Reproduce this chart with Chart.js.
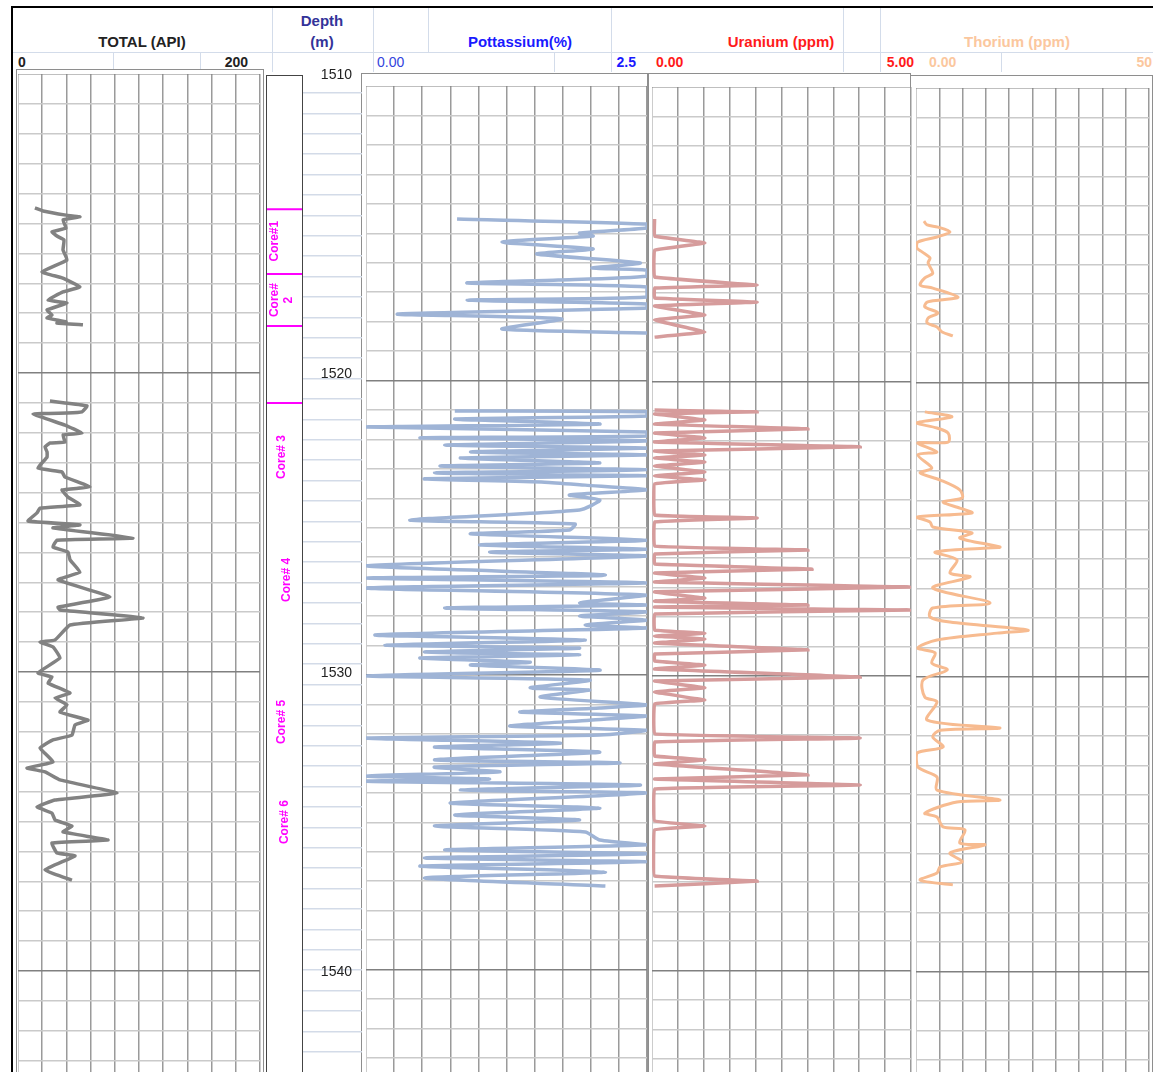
<!DOCTYPE html>
<html>
<head>
<meta charset="utf-8">
<script src="https://cdn.jsdelivr.net/npm/chart.js@4.4.1/dist/chart.umd.min.js"></script>
<style>
  body { margin: 0; background: #fff; font-family: "Liberation Sans", Arial, sans-serif; }
  #page { position: relative; width: 1153px; height: 1072px; overflow: hidden; }
  #page canvas { position: absolute; }
  .ln { position: absolute; }
  .box { position: absolute; border: 1px solid #8e8e8e; border-bottom: none; box-sizing: border-box; }
  .tx { position: absolute; white-space: nowrap; font-weight: bold; }
</style>
</head>
<body>
<div id="page">
  <!-- frame and header grid -->
  <div class="ln" style="left:11px;top:6px;width:1142px;height:2px;background:#000"></div>
  <div class="ln" style="left:11px;top:6px;width:2px;height:1066px;background:#000"></div>
  <div class="ln" style="left:13px;top:52px;width:1140px;height:1px;background:#d3dcea"></div>
  <div class="ln" style="left:272px;top:8px;width:1px;height:64px;background:#d3dcea"></div>
  <div class="ln" style="left:373px;top:8px;width:1px;height:64px;background:#d3dcea"></div>
  <div class="ln" style="left:428px;top:8px;width:1px;height:44px;background:#d3dcea"></div>
  <div class="ln" style="left:611px;top:8px;width:1px;height:64px;background:#d3dcea"></div>
  <div class="ln" style="left:843px;top:8px;width:1px;height:64px;background:#d3dcea"></div>
  <div class="ln" style="left:880px;top:8px;width:1px;height:64px;background:#d3dcea"></div>
  <div class="ln" style="left:113px;top:52px;width:1px;height:18px;background:#d3dcea"></div>
  <div class="ln" style="left:200px;top:52px;width:1px;height:18px;background:#d3dcea"></div>
  <div class="ln" style="left:554px;top:52px;width:1px;height:20px;background:#d3dcea"></div>
  <div class="ln" style="left:1001px;top:52px;width:1px;height:20px;background:#d3dcea"></div>

  <!-- header titles -->
  <div class="tx" style="left:42px;top:33px;width:200px;text-align:center;font-size:15px;color:#222">TOTAL (API)</div>
  <div class="tx" style="left:272px;top:12px;width:100px;text-align:center;font-size:15px;color:#333399">Depth</div>
  <div class="tx" style="left:272px;top:33px;width:100px;text-align:center;font-size:15px;color:#333399">(m)</div>
  <div class="tx" style="left:420px;top:33px;width:200px;text-align:center;font-size:15px;color:#1a1aff">Pottassium(%)</div>
  <div class="tx" style="left:681px;top:33px;width:200px;text-align:center;font-size:15px;color:#ff1a1a">Uranium (ppm)</div>
  <div class="tx" style="left:917px;top:33px;width:200px;text-align:center;font-size:15px;color:#fbc79e">Thorium (ppm)</div>

  <!-- scale row -->
  <div class="tx" style="left:18px;top:54px;font-size:14px;color:#222">0</div>
  <div class="tx" style="left:148px;top:54px;width:100px;text-align:right;font-size:14px;color:#222">200</div>
  <div class="tx" style="left:377px;top:54px;font-size:14px;color:#3344dd;font-weight:normal">0.00</div>
  <div class="tx" style="left:536px;top:54px;width:100px;text-align:right;font-size:14px;color:#1a1aff">2.5</div>
  <div class="tx" style="left:656px;top:54px;font-size:14px;color:#ff1a1a">0.00</div>
  <div class="tx" style="left:814px;top:54px;width:100px;text-align:right;font-size:14px;color:#ff1a1a">5.00</div>
  <div class="tx" style="left:929px;top:54px;font-size:14px;color:#fbc79e">0.00</div>
  <div class="tx" style="left:1052px;top:54px;width:100px;text-align:right;font-size:14px;color:#fbc79e">50</div>

  <!-- track boxes -->
  <div class="box" style="left:16px;top:69px;width:248px;height:1003px"></div>
  <div class="box" style="left:266px;top:75px;width:37px;height:997px;border-color:#444;border-width:1.5px"></div>
  <div class="box" style="left:361px;top:73px;width:288px;height:999px"></div>
  <div class="box" style="left:647px;top:73px;width:264px;height:999px"></div>
  <div class="box" style="left:910px;top:75px;width:243px;height:997px"></div>
</div>

<script>
// ---- data (depth in m, value in track units) ----
// null rows split a curve where the log has no readings
const grDepth = [1514.48,1514.58,1514.72,1514.78,1514.88,1515.15,1515.28,1515.42,1515.55,1515.89,1516.22,1516.62,1516.82,1517.12,1517.29,1517.56,1517.66,1517.89,1518.06,1518.16,1518.29,1518.33,1518.39,
  null,
  1520.94,1521.00,1521.10,1521.30,1521.34,1521.37,1521.74,1522.01,1522.07,1522.31,1522.34,1522.47,1522.64,1522.81,1523.18,1523.31,1523.48,1523.81,1523.91,1524.15,1524.41,1524.52,1524.68,1524.95,1525.08,1525.18,1525.52,1525.59,1525.82,1525.99,1526.25,1526.66,1526.92,1527.49,1527.83,1527.93,1528.19,1528.43,1528.93,1529.00,1529.16,1529.53,1530.03,1530.17,1530.37,1530.70,1530.87,1531.10,1531.34,1531.61,1531.77,1532.11,1532.27,1532.54,1533.01,1533.21,1533.34,1533.61,1534.05,1534.28,1534.51,1534.72,1534.95,1535.15,1535.35,1535.62,1535.72,1536.05,1536.15,1536.62,1536.96];
const grValue = [14.0,20.7,39.7,51.2,37.2,39.7,28.1,32.2,38.0,37.2,40.5,19.8,36.4,51.2,37.2,24.8,40.5,24.0,28.1,24.0,39.7,32.2,53.7,
  null,
  26.4,38.8,57.0,52.9,40.5,12.4,38.8,52.9,37.2,38.8,26.4,22.3,24.0,24.0,16.5,36.4,38.8,59.5,36.4,41.3,51.2,18.2,15.7,8.3,51.2,28.9,95.0,32.2,28.9,41.3,43.0,51.2,33.1,76.0,33.1,34.7,103.3,43.0,30.6,18.2,28.9,34.7,16.5,28.1,24.8,43.0,30.6,40.5,34.7,57.9,47.1,44.6,28.9,18.2,28.9,7.4,22.3,34.7,81.8,30.6,15.7,28.1,30.6,44.6,37.2,74.4,28.1,32.2,47.1,22.3,44.6];

const kDepth = [1514.85,1515.02,1515.15,1515.32,1515.42,1515.62,1515.85,1516.02,1516.32,1516.49,1516.56,1516.76,1516.89,1516.99,1517.12,1517.46,1517.56,1517.69,1517.83,1518.03,1518.19,1518.53,1518.66,
  null,
  1521.27,1521.30,1521.44,1521.54,1521.71,1521.81,1521.97,1522.11,1522.17,1522.27,1522.41,1522.51,1522.64,1522.74,1522.84,1523.01,1523.11,1523.24,1523.34,1523.44,1523.54,1523.65,1523.75,1523.91,1524.08,1524.25,1524.58,1524.92,1525.05,1525.25,1525.38,1525.59,1525.75,1525.89,1525.99,1526.12,1526.45,1526.76,1526.86,1527.02,1527.19,1527.43,1527.69,1527.76,1527.86,1527.99,1528.13,1528.26,1528.43,1528.53,1528.76,1528.93,1529.10,1529.20,1529.33,1529.43,1529.53,1529.67,1529.77,1529.94,1530.13,1530.27,1530.53,1530.60,1530.84,1531.10,1531.20,1531.34,1531.47,1531.61,1531.81,1531.95,1532.11,1532.21,1532.38,1532.51,1532.68,1532.94,1533.04,1533.18,1533.34,1533.48,1533.58,1533.65,1533.78,1533.95,1534.05,1534.38,1534.55,1534.78,1534.95,1535.15,1535.35,1535.62,1535.78,1535.95,1536.08,1536.22,1536.35,1536.49,1536.69,1536.89,1537.16];
const kValue = [0.81,2.50,2.50,1.90,2.02,1.21,2.02,1.52,2.44,2.01,2.50,2.50,1.71,0.90,2.50,2.50,0.90,2.50,2.50,0.28,1.74,1.21,2.50,
  null,
  0.79,2.50,2.50,0.79,2.08,0.00,2.50,2.50,0.48,2.50,0.70,2.50,0.93,2.50,0.84,2.08,0.66,2.50,0.61,2.50,0.52,1.59,1.95,2.50,1.81,2.08,1.90,0.39,1.86,1.81,0.93,2.50,1.01,2.50,1.10,2.50,0.00,2.13,0.00,2.50,0.00,2.50,1.90,2.50,0.70,2.50,1.90,2.50,1.95,2.50,0.08,1.95,0.17,1.90,0.52,1.90,0.48,1.46,0.93,2.08,0.00,1.99,1.46,1.99,1.55,2.50,2.08,1.37,2.50,1.99,1.28,2.50,2.08,0.00,1.73,0.61,2.08,0.61,2.26,0.61,1.19,0.00,1.10,0.00,2.44,0.84,2.50,0.75,2.08,0.79,1.90,0.61,1.95,2.08,2.50,0.70,2.50,0.52,2.50,0.48,2.13,0.52,2.13];

const uDepth = [1514.85,1515.42,1515.65,1515.89,1516.79,1517.06,1517.16,1517.49,1517.63,1517.76,1518.06,1518.23,1518.63,1518.80,
  null,
  1521.24,1521.30,1521.37,1521.57,1521.71,1521.87,1522.01,1522.17,1522.31,1522.47,1522.61,1522.74,1522.84,1522.98,1523.11,1523.31,1523.44,1523.58,1523.71,1524.75,1524.85,1524.98,1525.79,1525.92,1526.05,1526.39,1526.56,1526.69,1526.86,1526.99,1527.16,1527.32,1527.53,1527.63,1527.76,1527.83,1527.93,1528.06,1528.60,1528.70,1528.80,1528.90,1529.03,1529.26,1529.40,1529.63,1529.77,1529.90,1530.17,1530.30,1530.53,1530.67,1530.94,1531.07,1532.07,1532.21,1532.34,1532.81,1532.94,1533.08,1533.44,1533.58,1533.78,1533.91,1534.98,1535.15,1535.28,1536.82,1536.99,1537.16];
const uValue = [0.05,0.05,1.02,0.05,0.05,2.03,0.05,0.05,2.03,0.05,1.02,0.05,1.02,0.05,
  null,
  0.05,2.03,0.05,1.02,0.05,3.01,0.05,1.02,0.05,4.02,0.05,1.02,0.05,1.02,0.05,1.02,0.05,1.02,0.05,0.05,2.03,0.05,0.05,3.01,0.05,0.05,3.09,0.05,1.02,0.05,4.98,0.05,1.02,0.05,3.01,0.05,4.98,0.05,0.05,1.02,0.05,1.02,0.05,3.01,0.05,0.05,1.02,0.05,4.02,0.05,1.02,0.05,1.02,0.05,0.05,4.02,0.05,0.05,1.02,0.05,3.01,0.05,4.02,0.05,0.05,1.02,0.05,0.05,2.03,0.05];

const thDepth = [1514.92,1515.05,1515.12,1515.28,1515.45,1515.62,1515.82,1515.95,1516.15,1516.32,1516.66,1516.82,1517.06,1517.16,1517.46,1517.56,1517.63,1517.79,1517.99,1518.16,1518.33,1518.46,1518.63,1518.76,
  null,
  1521.30,1521.47,1521.67,1521.84,1522.01,1522.31,1522.34,1522.64,1522.74,1523.18,1523.34,1523.58,1523.91,1524.18,1524.31,1524.52,1524.68,1524.82,1524.98,1525.15,1525.35,1525.52,1525.82,1525.85,1525.99,1526.25,1526.69,1526.82,1527.19,1527.69,1527.86,1528.16,1528.33,1528.60,1528.70,1528.93,1529.20,1529.36,1529.70,1529.93,1530.27,1530.84,1531.00,1531.61,1531.87,1531.95,1532.17,1532.51,1532.71,1533.18,1533.51,1533.95,1534.28,1534.35,1534.72,1534.85,1535.18,1535.28,1535.72,1535.78,1536.05,1536.35,1536.52,1536.72,1536.96,1537.12];
const thValue = [1.7,2.4,4.7,7.3,4.5,0.4,0.2,1.3,3.0,2.6,3.6,1.9,0.9,3.6,9.0,5.2,2.4,1.9,4.7,2.6,2.4,4.5,5.6,7.9,
  null,
  1.9,7.7,0.2,4.5,6.9,6.9,0.4,4.5,0.4,3.4,0.9,5.2,9.4,9.9,5.8,9.4,12.0,0.2,3.0,3.6,12.0,9.4,18.0,15.2,4.1,8.8,7.3,11.6,3.6,15.9,3.6,3.0,7.3,24.0,17.4,4.5,0.4,4.1,3.4,6.7,1.5,1.9,4.5,2.4,18.0,5.2,3.6,5.8,0.2,0.4,4.5,4.5,18.0,8.8,1.9,4.5,5.8,10.5,9.4,14.8,7.3,9.9,5.2,4.5,0.9,7.9];

const coreBounds = [1514.52, 1516.69, 1518.43, 1521.00];
const coreNames = ['Core#1', 'Core#\n2', 'Core# 3', 'Core# 4', 'Core# 5', 'Core# 6'];
const coreMid = [1515.59, 1517.56, 1522.81, 1526.92, 1531.67, 1535.02];
const depthLabels = [1510, 1520, 1530, 1540];

// ---- page geometry ----
const FONT = '"Liberation Sans", Arial, sans-serif';
const PX_PER_M = 29.9;           // depth scale of the curves, 1510 m at y = 74
function depthAt(pageY) { return 1510 + (pageY - 74) / PX_PER_M; }

function makeCanvas(left, top, w, h) {
  const c = document.createElement('canvas');
  c.width = w; c.height = h;
  c.style.left = left + 'px'; c.style.top = top + 'px';
  c.style.width = w + 'px'; c.style.height = h + 'px';
  document.getElementById('page').appendChild(c);
  return c;
}

function points(depth, value) {
  return depth.map((d, i) => ({ x: value[i], y: d }));
}

function setTicks(list) {
  return function (scale) { scale.ticks = list.map(v => ({ value: v })); };
}

function range(a, b) {
  const out = [];
  for (let v = a; v <= b; v++) out.push(v);
  return out;
}

const baseOptions = {
  responsive: false,
  animation: false,
  devicePixelRatio: 1,
  plugins: { legend: { display: false }, tooltip: { enabled: false } }
};

// one log track: curve + its own grid (grid has its own metre spacing)
function logTrack(left, top, w, h, xMax, gridPx, curve) {
  const canvas = makeCanvas(left, top, w + 1, h);
  const gridMax = 1510 + h / gridPx;
  new Chart(canvas, {
    type: 'scatter',
    data: {
      datasets: [{
        data: curve.data,
        showLine: true,
        borderColor: curve.color,
        borderWidth: curve.width,
        pointRadius: 0,
        tension: curve.tension,
        spanGaps: false,
        xAxisID: 'x',
        yAxisID: 'y'
      }]
    },
    options: {
      ...baseOptions,
      layout: { padding: { right: 1 } },
      scales: {
        x: {
          type: 'linear', min: 0, max: xMax,
          afterBuildTicks: setTicks(range(0, 10).map(i => xMax * i / 10)),
          ticks: { display: false },
          grid: { color: '#9a9a9a', lineWidth: 1.5, drawTicks: false },
          border: { display: false }
        },
        y: {
          type: 'linear', reverse: true, display: false,
          min: depthAt(top), max: depthAt(top + h)
        },
        yg: {
          type: 'linear', reverse: true, min: 1510, max: gridMax,
          afterBuildTicks: setTicks(range(1510, Math.floor(gridMax))),
          ticks: { display: false },
          grid: {
            drawTicks: false,
            color: ctx => ctx.tick.value % 10 === 0 ? '#808080' : '#cacaca',
            lineWidth: 1.5
          },
          border: { display: false }
        }
      }
    }
  });
}

logTrack(18, 74, 242, 998, 200, 29.9,
  { data: points(grDepth, grValue), color: '#828282', width: 3.5, tension: 0.1 });
logTrack(366, 86, 281, 986, 2.5, 29.45,
  { data: points(kDepth, kValue), color: '#9fb4d6', width: 3.5, tension: 0.2 });
logTrack(652, 87, 259, 985, 5, 29.45,
  { data: points(uDepth, uValue), color: '#d69c9c', width: 3.5, tension: 0.05 });
logTrack(916, 88, 233, 984, 50, 29.45,
  { data: points(thDepth, thValue), color: '#f7bb90', width: 3, tension: 0.3 });

// ---- core track ----
const coreLines = [];
coreBounds.forEach(d => { coreLines.push({ x: 0, y: d }, { x: 1, y: d }, { x: null, y: null }); });
const coreLabelPlugin = {
  id: 'coreLabels',
  afterDatasetsDraw(chart) {
    const { ctx, scales } = chart;
    const xs = [8, 8, 15, 20, 15, 18];
    ctx.save();
    ctx.fillStyle = '#ff00ff';
    ctx.font = 'bold 12px ' + FONT;
    ctx.textAlign = 'center';
    ctx.textBaseline = 'middle';
    coreNames.forEach((name, i) => {
      const y = scales.y.getPixelForValue(coreMid[i]);
      ctx.save();
      ctx.translate(xs[i], y);
      ctx.rotate(-Math.PI / 2);
      name.split('\n').forEach((t, j) => ctx.fillText(t, 0, j * 14));
      ctx.restore();
    });
    ctx.restore();
  }
};
new Chart(makeCanvas(267, 75, 35, 997), {
  type: 'scatter',
  data: { datasets: [{ data: coreLines, showLine: true, borderColor: '#ff00ff', borderWidth: 2, pointRadius: 0, spanGaps: false }] },
  options: {
    ...baseOptions,
    scales: {
      x: { type: 'linear', min: 0, max: 1, display: false },
      y: { type: 'linear', reverse: true, display: false, min: depthAt(75), max: depthAt(1072) }
    }
  },
  plugins: [coreLabelPlugin]
});

// ---- depth track ----
const depthLabelPlugin = {
  id: 'depthLabels',
  afterDraw(chart) {
    const { ctx, scales, chartArea } = chart;
    ctx.save();
    ctx.fillStyle = '#222';
    ctx.font = '14px ' + FONT;
    ctx.textAlign = 'right';
    ctx.textBaseline = 'middle';
    depthLabels.forEach(d => ctx.fillText(String(d), chartArea.right - 10, scales.y.getPixelForValue(d) + 1));
    ctx.restore();
  }
};
const minorStart = 1 - 19 / 20.4;
new Chart(makeCanvas(303, 60, 59, 1012), {
  type: 'scatter',
  data: { datasets: [] },
  options: {
    ...baseOptions,
    layout: { padding: { top: 14 } },
    scales: {
      x: { type: 'linear', min: 0, max: 1, display: false },
      y: { type: 'linear', reverse: true, display: false, min: 1510, max: depthAt(1072) },
      ym: {
        type: 'linear', reverse: true, position: 'left',
        min: minorStart, max: minorStart + 998 / 20.4,
        afterBuildTicks: setTicks(range(1, 48)),
        ticks: { display: false },
        grid: { color: '#d3dbe8', lineWidth: 1.5, drawTicks: false },
        border: { display: false }
      }
    }
  },
  plugins: [depthLabelPlugin]
});
</script>
</body>
</html>
